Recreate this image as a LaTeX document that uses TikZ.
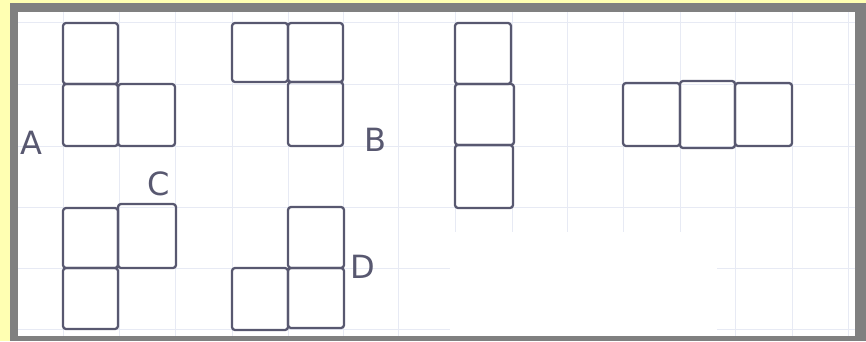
\documentclass[tikz,border=0pt]{standalone}
\usepackage{fontspec}
\setsansfont{DejaVu Sans}
\definecolor{pen}{RGB}{88,88,112}
\definecolor{paperyellow}{RGB}{255,255,178}
\definecolor{framegray}{RGB}{128,128,128}
\definecolor{gridblue}{RGB}{231,234,244}
\tikzset{
  hand/.style={draw=pen, line width=2.3pt, rounded corners=3pt, line join=round},
  gridline/.style={draw=gridblue, line width=0.7pt},
  letter/.style={text=pen, font=\sffamily\fontsize{32}{32}\selectfont, inner sep=0pt}
}
\begin{document}
\begin{tikzpicture}[x=1pt,y=-1pt]
\useasboundingbox (0,0) rectangle (866,341);
% background and frame
\fill[paperyellow] (0,0) rectangle (866,341);
\fill[framegray] (10,3) rectangle (866,341);
\fill[white] (18,12) rectangle (855,336);
% faint grid
\begin{scope}
\clip (18,12) rectangle (855,336);
\foreach \gx in {63,119,175,232,288,343,398,455,512,567,623,680,735,792,848}
  \draw[gridline] (\gx,12) -- (\gx,336);
\foreach \gy in {22,84,146,207,268,329}
  \draw[gridline] (18,\gy) -- (855,\gy);
\fill[white] (450,232) rectangle (717,336);
\end{scope}
% A
\draw[hand] (63,23) rectangle (118,84);
\draw[hand] (63,84) rectangle (118,146);
\draw[hand] (118,84) rectangle (175,146);
\node[letter] (la) at (31,143) {A};
% B
\draw[hand] (232,23) rectangle (288,82);
\draw[hand] (288,23) rectangle (343,82);
\draw[hand] (288,82) rectangle (343,146);
\node[letter] (lb) at (375,140) {B};
% vertical I
\draw[hand] (455,23) rectangle (511,84);
\draw[hand] (455,84) rectangle (514,145);
\draw[hand] (455,145) rectangle (513,208);
% horizontal I
\draw[hand] (623,83) rectangle (680,146);
\draw[hand] (680,81) rectangle (735,148);
\draw[hand] (735,83) rectangle (792,146);
% C
\draw[hand] (63,208) rectangle (118,268);
\draw[hand] (118,204) rectangle (176,268);
\draw[hand] (63,268) rectangle (118,329);
\node[letter] (lc) at (159,184) {C};
% D
\draw[hand] (288,207) rectangle (344,268);
\draw[hand] (232,268) rectangle (288,330);
\draw[hand] (288,268) rectangle (344,328);
\node[letter] (ld) at (363,267) {D};
\end{tikzpicture}
\end{document}
